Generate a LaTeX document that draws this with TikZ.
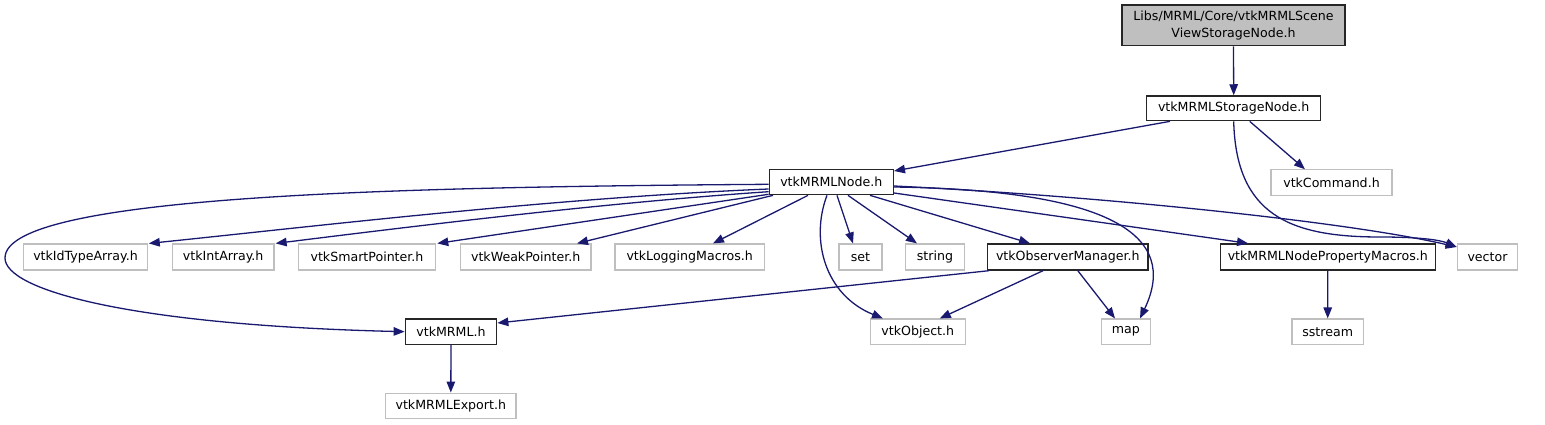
\documentclass[tikz,border=0pt]{standalone}
\usepackage{fontspec}
\setmainfont{DejaVu Sans}
\usetikzlibrary{arrows.meta}
\definecolor{boxgray}{HTML}{BFBFBF}
\definecolor{edgeblue}{HTML}{191970}
\newcommand\nodefont{\fontsize{12.6}{16.5}\selectfont}
\tikzset{
  basebox/.style={rectangle, inner sep=0pt, minimum height=25.3pt, font=\nodefont, text=black},
  gbox/.style={basebox, draw=boxgray, line width=1.2pt},
  bbox/.style={basebox, draw=black!85, line width=1.4pt},
  dep/.style={draw=edgeblue, line width=1.3pt, -{Triangle[length=11pt,width=8.5pt]}},
}
\begin{document}
\begin{tikzpicture}[x=1pt,y=-1pt]
\useasboundingbox (0,0) rectangle (1545,425);
% nodes
\node[bbox, fill=boxgray, minimum width=223pt, minimum height=40.7pt, align=center] (root) at (1233.5,25.3) {Libs/MRML/Core/vtkMRMLScene\\ViewStorageNode.h};
\node[bbox, minimum width=174pt, minimum height=24.7pt] (storage) at (1233.7,108.3) {vtkMRMLStorageNode.h};
\node[gbox, minimum width=121pt] (command) at (1331.5,182.5) {vtkCommand.h};
\node[bbox, minimum width=124pt] (mrmlnode) at (831.3,182) {vtkMRMLNode.h};
\node[gbox, minimum width=124.4pt, minimum height=26pt] (idtype) at (85.5,257) {vtkIdTypeArray.h};
\node[gbox, minimum width=101.7pt, minimum height=26pt] (intarray) at (223.2,257) {vtkIntArray.h};
\node[gbox, minimum width=137.4pt, minimum height=26pt] (smart) at (367,257) {vtkSmartPointer.h};
\node[gbox, minimum width=130.7pt, minimum height=26pt] (weak) at (525.7,257) {vtkWeakPointer.h};
\node[gbox, minimum width=149.3pt, minimum height=26pt] (logging) at (689.7,257) {vtkLoggingMacros.h};
\node[gbox, minimum width=43pt, minimum height=26pt] (set) at (860.5,257) {set};
\node[gbox, minimum width=58.6pt, minimum height=26pt] (string) at (935,257) {string};
\node[bbox, minimum width=160.3pt, minimum height=26pt] (observer) at (1067.8,257) {vtkObserverManager.h};
\node[bbox, minimum width=215pt, minimum height=26pt] (propmacros) at (1327.8,257) {vtkMRMLNodePropertyMacros.h};
\node[gbox, minimum width=60.4pt, minimum height=26pt] (vector) at (1487.5,257) {vector};
\node[bbox, minimum width=91.4pt] (vtkmrml) at (451,331.7) {vtkMRML.h};
\node[gbox, minimum width=95pt] (vtkobject) at (917.8,331.7) {vtkObject.h};
\node[gbox, minimum width=49pt] (map) at (1125.8,331.7) {map};
\node[gbox, minimum width=71.3pt] (sstream) at (1327.7,331.7) {sstream};
\node[gbox, minimum width=130.3pt, minimum height=25.7pt] (export) at (450.8,406) {vtkMRMLExport.h};
% edges
\draw[dep] (root.south) -- (storage.north);
\draw[dep] ([xshift=-63.7pt]storage.south) -- ([yshift=11pt]mrmlnode.east);
\draw[dep] ([xshift=16pt]storage.south) -- ([xshift=-26.5pt]command.north);
\draw[dep] (storage.south) .. controls (1236,215) and (1290,237) .. (1380,237) .. controls (1420,237) and (1440,240) .. ([yshift=10pt]vector.west);
\draw[dep] ([yshift=-4pt]mrmlnode.east) .. controls (1100,196) and (1350,222) .. ([yshift=10pt]vector.west);
\draw[dep] ([yshift=-5pt]mrmlnode.east) .. controls (1110,190) and (1180,235) .. ([xshift=14.2pt]map.north);
\draw[dep] ([yshift=-11pt]mrmlnode.east) -- ([xshift=-79.8pt]propmacros.north);
\draw[dep] ([xshift=38.7pt]mrmlnode.south) -- ([xshift=-37.8pt]observer.north);
\draw[dep] ([xshift=16.7pt]mrmlnode.south) -- ([xshift=-18pt]string.north);
\draw[dep] ([xshift=5.7pt]mrmlnode.south) -- ([xshift=-7.5pt]set.north);
\draw[dep] ([xshift=-4.3pt]mrmlnode.south) .. controls (810,240) and (825,295) .. ([xshift=-34.8pt]vtkobject.north);
\draw[dep] ([xshift=-23.3pt]mrmlnode.south) -- ([xshift=23.3pt]logging.north);
\draw[dep] ([xshift=-58.3pt]mrmlnode.south) -- ([xshift=51.3pt]weak.north);
\draw[dep] ([yshift=-12.3pt]mrmlnode.west) -- ([xshift=1pt]smart.north east);
\draw[dep] ([yshift=-9.7pt]mrmlnode.west) .. controls (600,203) and (400,228) .. ([xshift=1pt]intarray.north east);
\draw[dep] ([yshift=-7pt]mrmlnode.west) .. controls (550,198) and (300,228) .. ([xshift=0.5pt]idtype.north east);
\draw[dep] ([yshift=-2.3pt]mrmlnode.west) .. controls (400,187) and (5,195) .. (5,258) .. controls (5,290) and (130,325) .. (vtkmrml.west);
\draw[dep] ([xshift=2pt]observer.south west) -- ([yshift=8.7pt]vtkmrml.east);
\draw[dep] ([xshift=-24.8pt]observer.south) -- ([xshift=22pt]vtkobject.north);
\draw[dep] ([xshift=10pt]observer.south) -- ([xshift=-10.8pt]map.north);
\draw[dep] (propmacros.south) -- (sstream.north);
\draw[dep] (vtkmrml.south) -- (export.north);
\end{tikzpicture}
\end{document}
